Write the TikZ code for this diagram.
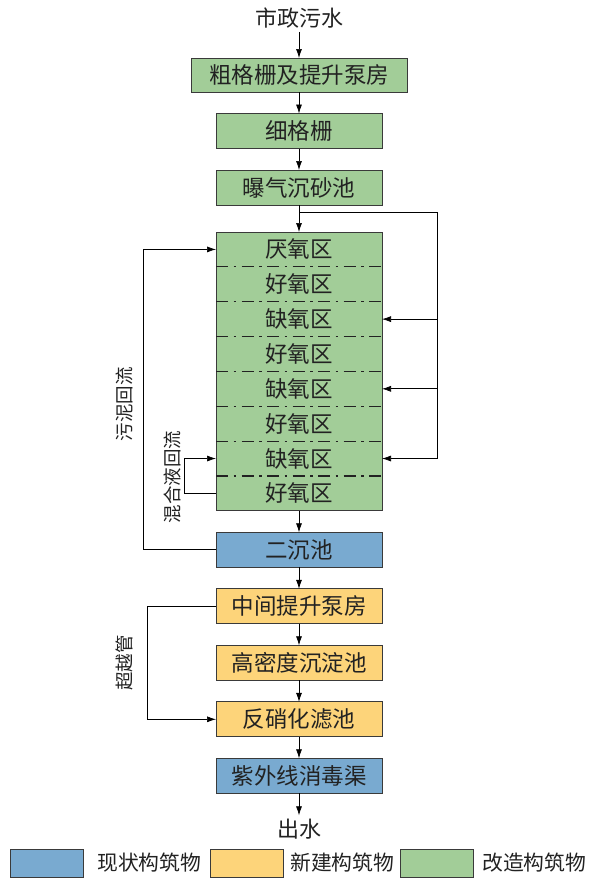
\documentclass[tikz,border=0pt]{standalone}
\usepackage{fontspec}
\setmainfont{Noto Sans CJK SC}
\usetikzlibrary{arrows.meta, positioning, calc}
\definecolor{oldblue}{HTML}{79AAD0}
\definecolor{newyellow}{HTML}{FDD47A}
\definecolor{redogreen}{HTML}{A2CD98}
\definecolor{edgegray}{HTML}{3A3A3A}
\definecolor{inkgray}{HTML}{222222}
\tikzset{
  unit/.style={draw=edgegray, fill=redogreen, minimum width=166pt, minimum height=35pt, inner sep=0pt, outer sep=0pt,
    font=\fontsize{22.5}{22.5}\selectfont, text=inkgray, line width=0.8pt},
  newunit/.style={unit, fill=newyellow},
  oldunit/.style={unit, fill=oldblue},
  zone/.style={fill=redogreen, minimum width=166pt, minimum height=34.85pt, inner sep=0pt, outer sep=0pt,
    font=\fontsize{22.5}{22.5}\selectfont, text=inkgray},
  zoneline/.style={draw=inkgray, dash pattern=on 12pt off 5.5pt on 2.5pt off 5.5pt, line width=1.1pt},
  flow/.style={-{Latex[length=9pt,width=6pt]}, draw=black, line width=0.7pt},
  sidelabel/.style={rotate=90, font=\fontsize{18.5}{18.5}\selectfont, text=inkgray},
  keybox/.style={draw=edgegray, minimum width=73pt, minimum height=28pt, inner sep=0pt, line width=0.8pt},
  keytext/.style={anchor=west, inner sep=0pt, font=\fontsize{20.8}{20.8}\selectfont, text=inkgray}
}

\begin{document}
\begin{tikzpicture}[x=1pt, y=-1pt, node distance=21.5pt]
\useasboundingbox (0,0) rectangle (590,878);
\node[font=\fontsize{22}{22}\selectfont, text=inkgray] (inflow) at (299,18) {市政污水};
\node[unit, minimum width=216pt, minimum height=34pt] (coarse) at (299,75) {粗格栅及提升泵房};
\node[unit, below=of coarse] (fine) {细格栅};
\node[unit, below=of fine] (grit) {曝气沉砂池};
% reactor zones
\node[zone, below=27pt of grit] (z1) {厌氧区};
\node[zone, below=0pt of z1] (z2) {好氧区};
\node[zone, below=0pt of z2] (z3) {缺氧区};
\node[zone, below=0pt of z3] (z4) {好氧区};
\node[zone, below=0pt of z4] (z5) {缺氧区};
\node[zone, below=0pt of z5] (z6) {好氧区};
\node[zone, below=0pt of z6] (z7) {缺氧区};
\node[zone, below=0pt of z7] (z8) {好氧区};
\draw[edgegray, line width=0.8pt] (z1.north west) rectangle (z8.south east);
\draw[zoneline] (z1.south west)--(z1.south east); \draw[zoneline] (z2.south west)--(z2.south east);
\draw[zoneline] (z3.south west)--(z3.south east); \draw[zoneline] (z4.south west)--(z4.south east);
\draw[zoneline] (z5.south west)--(z5.south east); \draw[zoneline] (z6.south west)--(z6.south east);
\draw[zoneline] (z7.south west)--(z7.south east);
\node[oldunit, below=21.5pt of z8] (clar) {二沉池};
\node[newunit, below=of clar] (lift) {中间提升泵房};
\node[newunit, below=of lift] (hdsed) {高密度沉淀池};
\node[newunit, below=of hdsed] (denit) {反硝化滤池};
\node[oldunit, below=of denit] (uv) {紫外线消毒渠};
\node[font=\fontsize{22}{22}\selectfont, text=inkgray] (outflow) at (299,829) {出水};
% main line
\draw[flow] (inflow)--(coarse); \draw[flow] (coarse)--(fine); \draw[flow] (fine)--(grit);
\draw[flow] (grit)--(z1); \draw[flow] (z8)--(clar); \draw[flow] (clar)--(lift);
\draw[flow] (lift)--(hdsed); \draw[flow] (hdsed)--(denit); \draw[flow] (denit)--(uv);
\draw[flow] (uv)--(outflow);
% step feed
\coordinate (feed) at (437,212);
\draw[line width=0.7pt] (grit.south |- feed)--(feed)--(feed |- z7.east);
\draw[flow] (feed |- z3.east)--(z3.east); \draw[flow] (feed |- z5.east)--(z5.east);
\draw[flow] (feed |- z7.east)--(z7.east);
% returns and bypass
\coordinate (sludgex) at (143,0);
\coordinate (mixx) at (184,0);
\coordinate (bypassx) at (147,0);
\draw[flow] (clar.west)--(clar.west -| sludgex) |- (z1.west);
\draw[flow] (z8.west)--(z8.west -| mixx) |- (z7.west);
\draw[flow] (lift.west)--(lift.west -| bypassx) |- (denit.west);
\node[sidelabel] (sludgelab) at (124,404) {污泥回流};
\node[sidelabel] (mixlab) at (172,477) {混合液回流};
\node[sidelabel] (bypasslab) at (124,663) {超越管};
% legend
\node[keybox, fill=oldblue] (key1) at (46.5,863) {};
\node[keytext] (keylab1) at (97,863) {现状构筑物};
\node[keybox, fill=newyellow] (key2) at (246.5,863) {};
\node[keytext] (keylab2) at (290,863) {新建构筑物};
\node[keybox, fill=redogreen] (key3) at (436.5,863) {};
\node[keytext] (keylab3) at (482,863) {改造构筑物};
\end{tikzpicture}
\end{document}
